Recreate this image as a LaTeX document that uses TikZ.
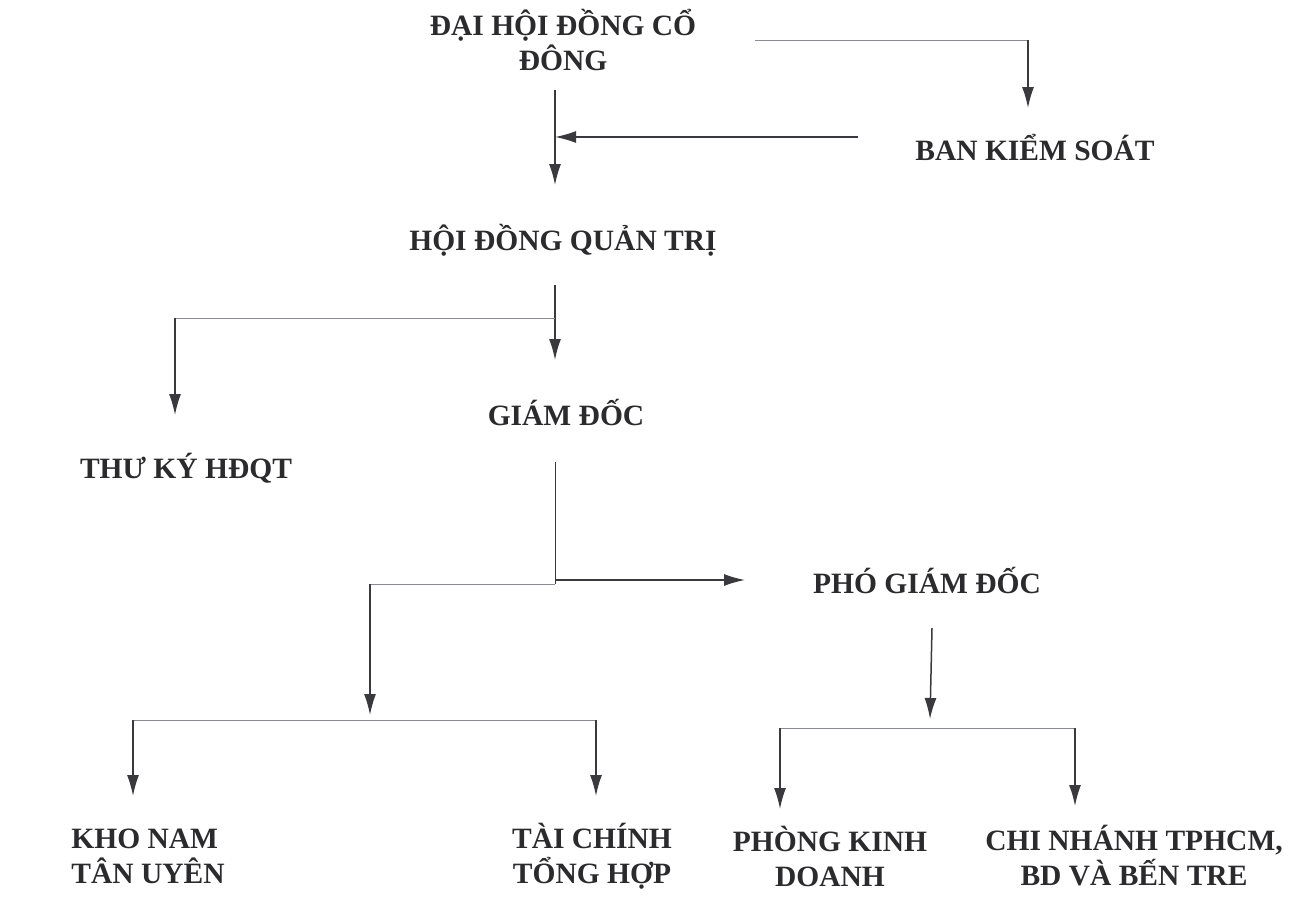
\documentclass[tikz,border=0pt]{standalone}
\usepackage{fontspec}
\setmainfont{Liberation Serif}
\usetikzlibrary{arrows.meta,calc}
\definecolor{ink}{HTML}{2B2B2E}
\definecolor{linec}{HTML}{3A3A3E}
\definecolor{thin}{HTML}{8A8A90}
\tikzset{
  lbl/.style={inner sep=0pt, font=\fontsize{29.5}{35}\selectfont\bfseries, text=ink, align=center},
  arr/.style={draw=linec, line width=1.5pt, -{Latex[length=21pt,width=12pt]}},
  br/.style={draw=thin, line width=1pt},
}
\begin{document}
\begin{tikzpicture}[x=1pt,y=-1pt]
\useasboundingbox (0,0) rectangle (1306,905);
% nodes
\node[lbl] (dhd) at (563,40) {ĐẠI HỘI ĐỒNG CỔ\\ĐÔNG};
\node[lbl] (bks) at (1035,148) {BAN KIỂM SOÁT};
\node[lbl] (hdqt) at (563,240) {HỘI ĐỒNG QUẢN TRỊ};
\node[lbl] (gd) at (566,413) {GIÁM ĐỐC};
\node[lbl] (tk) at (186,468) {THƯ KÝ HĐQT};
\node[lbl] (pgd) at (927,580) {PHÓ GIÁM ĐỐC};
\node[lbl, align=left] (kho) at (148,856) {KHO NAM\\TÂN UYÊN};
\node[lbl] (tc) at (592,856) {TÀI CHÍNH\\TỔNG HỢP};
\node[lbl] (pkd) at (830,856) {PHÒNG KINH\\DOANH};
\node[lbl] (cn) at (1134,856) {CHI NHÁNH TPHCM,\\BD VÀ BẾN TRE};
% junction coordinates
\coordinate (j0) at ($(dhd.center)+(-8,97)$);
\coordinate (j1) at ($(hdqt.center)+(-8,78)$);
\coordinate (j2) at ($(gd.center)+(-11,167)$);
\coordinate (j3) at (370,584);
\coordinate (j4) at (370,720);
\coordinate (j5) at (931,728);
% ĐHĐCĐ -> BKS
\draw[br] ($(dhd.center)+(192,0)$) -- ($(bks.center)+(-7,-108)$);
\draw[arr] ($(bks.center)+(-7,-108)$) -- ($(bks.center)+(-7,-40)$);
% ĐHĐCĐ -> HĐQT
\draw[arr] ($(dhd.center)+(-8,50)$) -- ($(hdqt.center)+(-8,-55)$);
% BKS -> main line
\draw[arr] ($(bks.center)+(-177,-11)$) -- (j0);
% HĐQT -> GĐ
\draw[arr] ($(hdqt.center)+(-8,45)$) -- ($(gd.center)+(-11,-53)$);
% HĐQT -> Thư ký
\draw[br] (j1) -- ($(tk.center)+(-11,-150)$);
\draw[arr] ($(tk.center)+(-11,-150)$) -- ($(tk.center)+(-11,-53)$);
% GĐ -> PGĐ
\draw[draw=linec, line width=1pt] ($(gd.center)+(-11,49)$) -- ($(gd.center)+(-11,171)$);
\draw[arr] (j2) -- ($(pgd.center)+(-182,0)$);
% GĐ -> left branch
\draw[br] ($(gd.center)+(-11,171)$) -- (j3);
\draw[arr] (j3) -- ($(j4)+(0,-5)$);
\draw[br] ($(kho.center)+(-15,-136)$) -- ($(tc.center)+(4,-136)$);
\draw[arr] ($(kho.center)+(-15,-136)$) -- ($(kho.center)+(-15,-60)$);
\draw[arr] ($(tc.center)+(4,-136)$) -- ($(tc.center)+(4,-60)$);
% PGĐ -> right branch
\draw[arr] ($(pgd.center)+(5,48)$) -- ($(j5)+(-1,-9)$);
\draw[br] ($(pkd.center)+(-50,-128)$) -- ($(cn.center)+(-59,-128)$);
\draw[arr] ($(pkd.center)+(-50,-128)$) -- ($(pkd.center)+(-50,-47)$);
\draw[arr] ($(cn.center)+(-59,-128)$) -- ($(cn.center)+(-59,-50)$);
\end{tikzpicture}
\end{document}
